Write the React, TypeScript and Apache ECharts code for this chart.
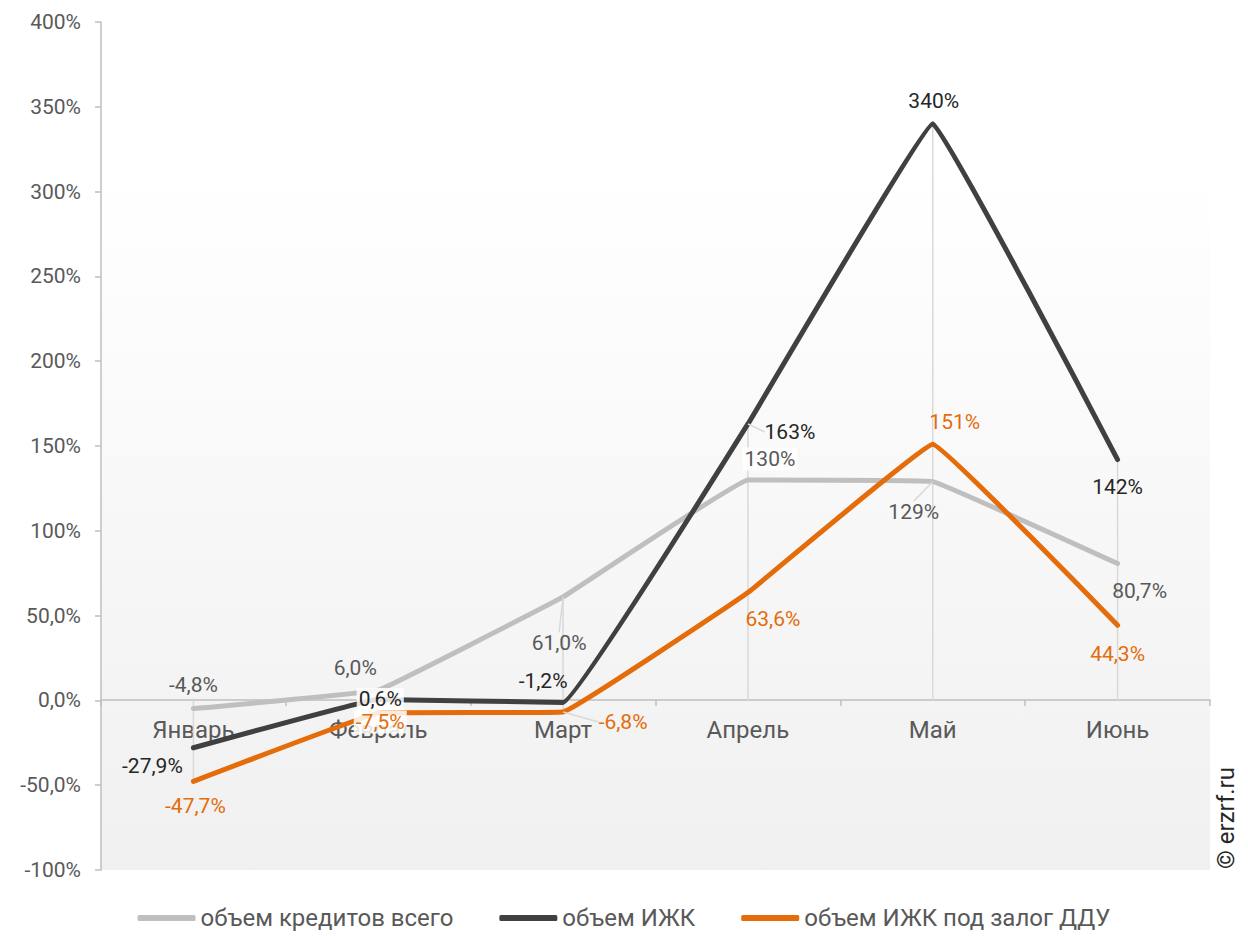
import React, { useEffect, useRef } from "react";
import * as echarts from "echarts";

const categories = ["Январь", "Февраль", "Март", "Апрель", "Май", "Июнь"];
const seriesNames = ["объем кредитов всего", "объем ИЖК", "объем ИЖК под залог ДДУ"];
const totalValues = [-4.8, 6.0, 61.0, 130, 129, 80.7];
const izhkValues = [-27.9, 0.6, -1.2, 163, 340, 142];
const dduValues = [-47.7, -7.5, -6.8, 63.6, 151, 44.3];
const yTicks = { min: -100, max: 400, interval: 50 };

// label offsets (dx, dy) relative to each point
const totalOffsets = [[0, -24], [-23, -22], [-4, 46], [22, -21], [-19, 30], [22, 27]];
const izhkOffsets = [[-41, 18], [2, 0], [-20, -21], [42, 8], [1, -23], [0, 27]];
const dduOffsets = [[2, 25], [2, 9], [60, 10], [25, 26], [22, -22], [0, 29]];
// which labels carry a leader line
const totalLeaders = [2, 4];
const izhkLeaders = [3];
const dduLeaders = [2];

const fmt = (v: number) =>
  Math.abs(v) >= 100 ? `${Math.round(v)}%` : `${v.toFixed(1).replace(".", ",")}%`;

const FONT = "Roboto, 'Noto Sans', sans-serif";

function buildData(values: number[], leaders: number[], bgIdx: number[] = []) {
  return values.map((v, i) => ({
    value: v,
    label: bgIdx.includes(i)
      ? { backgroundColor: "rgba(255,255,255,0.85)", padding: [1, 2] }
      : {},
    labelLine: { show: leaders.includes(i) },
  }));
}

export default function App() {
  const ref = useRef<HTMLDivElement>(null);
  useEffect(() => {
    document.body.style.margin = "0";
    if (!ref.current) return;
    const chart = echarts.init(ref.current, undefined, { renderer: "svg" });

    const dropData = categories.map((_, i) => {
      const vals = [totalValues[i], izhkValues[i], dduValues[i]];
      return [i, Math.max(0, ...vals), Math.min(0, ...vals)];
    });

    const lineSeries = (
      name: string,
      data: any[],
      offsets: number[][],
      color: string,
      labelColor: string,
      z: number
    ) => ({
      name,
      type: "line",
      data,
      z,
      smooth: 0.05,
      symbol: "circle",
      symbolSize: 0.1,
      itemStyle: { color },
      lineStyle: { color, width: 5, cap: "round", join: "round" },
      label: {
        show: true,
        position: "inside",
        formatter: (p: any) => fmt(p.value),
        color: labelColor,
        fontSize: 21,
        fontFamily: FONT,
      },
      labelLine: {
        show: false,
        length2: 0,
        lineStyle: { color: "#d9d9d9", width: 1.5 },
      },
      labelLayout: (p: any) => ({ dx: offsets[p.dataIndex][0], dy: offsets[p.dataIndex][1] }),
      emphasis: { disabled: true },
    });

    chart.setOption({
      animation: false,
      backgroundColor: "#ffffff",
      textStyle: { fontFamily: FONT },
      grid: {
        left: 101,
        right: 38,
        top: 22,
        bottom: 66,
        show: true,
        borderWidth: 0,
        backgroundColor: new echarts.graphic.LinearGradient(0, 0, 0, 1, [
          { offset: 0, color: "#ffffff" },
          { offset: 0.18, color: "#ffffff" },
          { offset: 1, color: "#f0f0f0" },
        ]),
      },
      legend: {
        bottom: 1,
        left: "center",
        itemGap: 46,
        itemWidth: 58,
        itemHeight: 6,
        icon: "roundRect",
        textStyle: { fontSize: 24, color: "#595959", fontFamily: FONT },
        data: seriesNames,
      },
      xAxis: {
        type: "category",
        data: categories,
        boundaryGap: true,
        offset: -170,
        axisLine: { show: true, onZero: false, lineStyle: { color: "#bfbfbf", width: 1.5 } },
        axisTick: { show: true, length: 6, lineStyle: { color: "#bfbfbf", width: 1.5 } },
        axisLabel: { fontSize: 24, color: "#595959", margin: 18, fontFamily: FONT },
        splitLine: { show: false },
      },
      yAxis: {
        type: "value",
        min: yTicks.min,
        max: yTicks.max,
        interval: yTicks.interval,
        axisLine: { show: true, lineStyle: { color: "#bfbfbf", width: 1.5 } },
        axisTick: { show: true, length: 6, lineStyle: { color: "#bfbfbf", width: 1.5 } },
        axisLabel: {
          fontSize: 21,
          color: "#595959",
          margin: 20,
          fontFamily: FONT,
          formatter: (v: number) => fmt(v),
        },
        splitLine: { show: false },
      },
      graphic: [
        {
          type: "text",
          x: 1226,
          y: 818,
          rotation: Math.PI / 2,
          style: {
            text: "© erzrf.ru",
            fontSize: 24,
            fontFamily: FONT,
            fill: "#262626",
            textAlign: "center",
            textVerticalAlign: "middle",
          },
        },
      ],
      series: [
        {
          type: "custom",
          name: "drop",
          z: 1,
          silent: true,
          data: dropData,
          renderItem: (params: any, api: any) => {
            const top = api.coord([api.value(0), api.value(1)]);
            const bot = api.coord([api.value(0), api.value(2)]);
            return {
              type: "line",
              shape: { x1: top[0], y1: top[1], x2: bot[0], y2: bot[1] },
              style: { stroke: "#d9d9d9", lineWidth: 1.5 },
            };
          },
        },
        lineSeries(seriesNames[0], buildData(totalValues, totalLeaders, [3]), totalOffsets, "#bfbfbf", "#595959", 2),
        lineSeries(seriesNames[1], buildData(izhkValues, izhkLeaders, [1]), izhkOffsets, "#404040", "#262626", 3),
        lineSeries(seriesNames[2], buildData(dduValues, dduLeaders, [1]), dduOffsets, "#e46c0a", "#e46c0a", 4),
      ],
    });
    return () => chart.dispose();
  }, []);
  return <div ref={ref} style={{ width: 1248, height: 936 }} />;
}
